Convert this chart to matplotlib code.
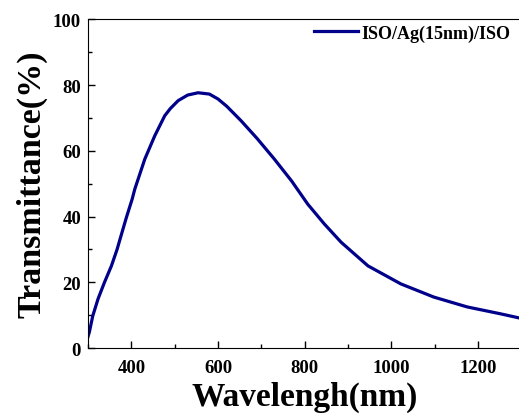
import numpy as np
import matplotlib.pyplot as plt
from matplotlib.ticker import MultipleLocator

# ── Data ─────────────────────────────────────────────────────────
wavelength = [300, 303, 311, 323, 338, 354, 367, 378, 388, 402, 408, 431, 454,
              477, 490, 508, 530, 554, 580, 600, 620, 653, 690, 730, 770, 807,
              845, 884, 946, 1022, 1098, 1175, 1252, 1300]
transmittance = [3.5, 4.8, 9.8, 14.9, 20.0, 25.0, 30.0, 35.0, 39.5, 45.4, 48.4,
                 57.5, 64.6, 70.7, 72.9, 75.3, 77.0, 77.7, 77.3, 75.8, 73.6,
                 69.2, 63.8, 57.5, 50.8, 43.8, 37.8, 32.2, 25.0, 19.5, 15.5,
                 12.5, 10.4, 9.0]
series_label = "ISO/Ag(15nm)/ISO"

plt.rcParams['font.family'] = ['Liberation Serif', 'DejaVu Serif']
plt.rcParams['font.weight'] = 'bold'

fig = plt.figure(figsize=(5.19, 4.14), dpi=100)
ax = fig.add_axes([0.1696, 0.157, 0.835, 0.7935])

ax.plot(wavelength, transmittance, color="#00008B", lw=2.3, label=series_label)

ax.set_xlim(300, 1300)
ax.set_ylim(0, 100)
ax.xaxis.set_major_locator(MultipleLocator(200))
ax.xaxis.set_minor_locator(MultipleLocator(100))
ax.yaxis.set_major_locator(MultipleLocator(20))
ax.yaxis.set_minor_locator(MultipleLocator(10))
ax.tick_params(which='both', direction='in', top=False, right=False,
               labelsize=13.5, width=1)
ax.tick_params(which='major', length=5)
ax.tick_params(which='minor', length=3)
ax.tick_params(axis='x', pad=8)
ax.tick_params(axis='y', pad=5)
ax.set_xticks([400, 600, 800, 1000, 1200])
for lbl in ax.get_xticklabels() + ax.get_yticklabels():
    lbl.set_fontweight('bold')

ax.set_xlabel("Wavelengh(nm)", fontsize=24, fontweight='bold', labelpad=3)
ax.set_ylabel("Transmittance(%)", fontsize=24.5, fontweight='bold', labelpad=4)

ax.legend(loc='upper right', bbox_to_anchor=(1.012, 1.035), frameon=False,
          handlelength=2.4, handletextpad=0.2,
          prop={'weight': 'bold', 'size': 13})

fig.savefig("out.png", dpi=100)
